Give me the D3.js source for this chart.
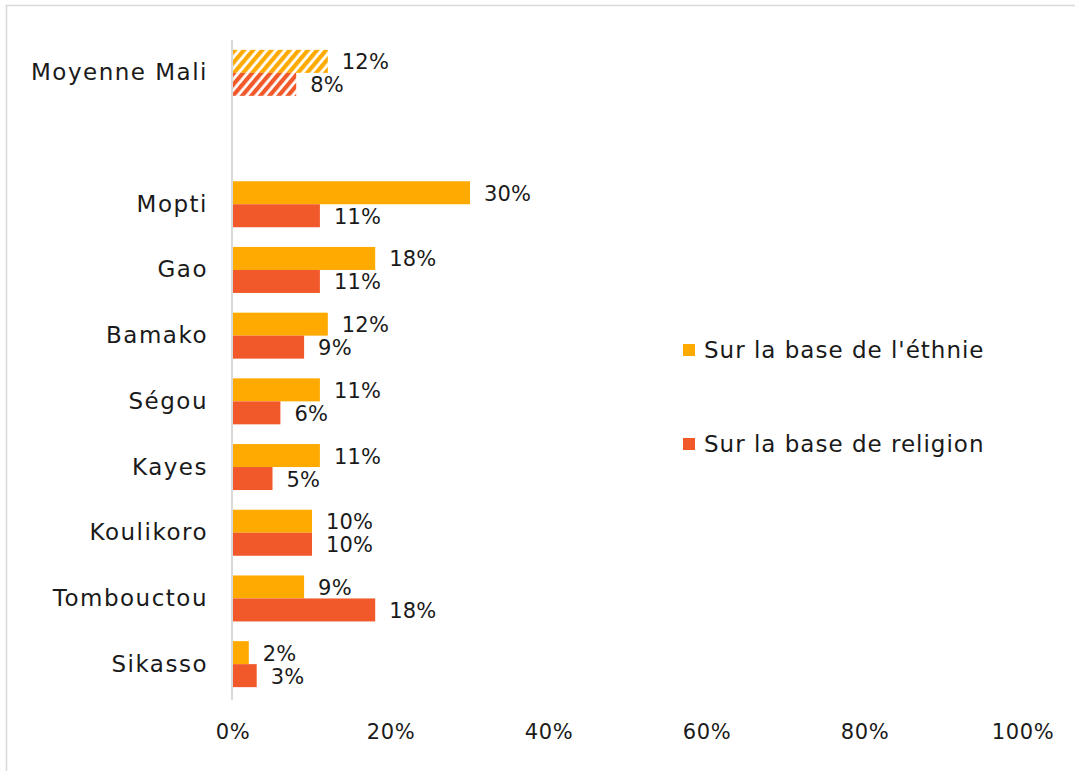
<!DOCTYPE html>
<html><head><meta charset="utf-8">
<script src="https://cdn.jsdelivr.net/npm/d3@7"></script>
<style>body{margin:0;background:#fff}svg{display:block;font-family:"Century Gothic","DejaVu Sans",sans-serif}</style>
</head><body>
<script>
const categories = ["Moyenne Mali", "", "Mopti", "Gao", "Bamako", "Ségou", "Kayes", "Koulikoro", "Tombouctou", "Sikasso"];
const ethnie =   [12, null, 30, 18, 12, 11, 11, 10, 9, 2];
const religion = [8,  null, 11, 11,  9,  6,  5, 10, 18, 3];
const seriesNames = ["Sur la base de l'éthnie", "Sur la base de religion"];
const colors = ["#FFAA00", "#F1592A"];
const ticks = [0, 20, 40, 60, 80, 100];

const W = 1075, H = 771;
const svg = d3.select("body").append("svg").attr("width", W).attr("height", H);

const defs = svg.append("defs");
colors.forEach((c, i) => {
  const p = defs.append("pattern").attr("id", "hatch" + i).attr("patternUnits", "userSpaceOnUse")
    .attr("width", 7).attr("height", 7).attr("patternTransform", "rotate(40)");
  p.append("rect").attr("width", 7).attr("height", 7).attr("fill", "#fff");
  p.append("rect").attr("width", 4.2).attr("height", 7).attr("fill", c);
});

// frame
svg.append("rect").attr("x", 6.5).attr("y", 5.5).attr("width", 1080).attr("height", 780)
  .attr("fill", "none").attr("stroke", "#d9d9d9").attr("stroke-width", 1.5);

const x = d3.scaleLinear().domain([0, 100]).range([233, 1023]);
const y = d3.scaleBand().domain(d3.range(categories.length)).range([40, 697]).paddingInner(0.3).paddingOuter(0.15);
const bw = y.bandwidth();

const data = categories.map((c, i) => ({c, i, vals: [ethnie[i], religion[i]]}));

const txt = (sel, fs, ls) => sel.attr("font-size", fs).attr("letter-spacing", ls).attr("fill", "#1a1a1a");

const g = svg.append("g");
data.forEach(d => {
  d.vals.forEach((v, s) => {
    if (v == null) return;
    const y0 = y(d.i) + s * bw / 2;
    g.append("rect").attr("x", x(0)).attr("y", y0).attr("width", x(v) - x(0)).attr("height", bw / 2)
      .attr("fill", d.i === 0 ? `url(#hatch${s})` : colors[s]);
    g.append("text").attr("x", x(v) + 14).attr("y", y0 + bw / 4 + 2).attr("dominant-baseline", "middle")
      .call(txt, 21, 0.2).text(v + "%");
  });
  if (d.c) {
    g.append("text").attr("x", 208).attr("y", y(d.i) + bw / 2 + 1).attr("text-anchor", "end")
      .attr("dominant-baseline", "middle").call(txt, 23, 1.5).text(d.c);
  }
});

// vertical axis line
svg.append("line").attr("x1", x(0) - 1).attr("x2", x(0) - 1).attr("y1", 40).attr("y2", 700)
  .attr("stroke", "#d9d9d9").attr("stroke-width", 2);

// x tick labels
svg.append("g").selectAll("text").data(ticks).join("text")
  .attr("x", d => x(d)).attr("y", 733).attr("text-anchor", "middle").attr("dominant-baseline", "middle")
  .call(txt, 21, 0.6).text(d => d + "%");

// legend
const leg = svg.append("g");
seriesNames.forEach((n, i) => {
  const ly = 350 + i * 94;
  leg.append("rect").attr("x", 683).attr("y", ly - 6).attr("width", 12).attr("height", 12).attr("fill", colors[i]);
  leg.append("text").attr("x", 704).attr("y", ly + 1).attr("dominant-baseline", "middle")
    .call(txt, 23, 1).text(n);
});
</script>
</body></html>
